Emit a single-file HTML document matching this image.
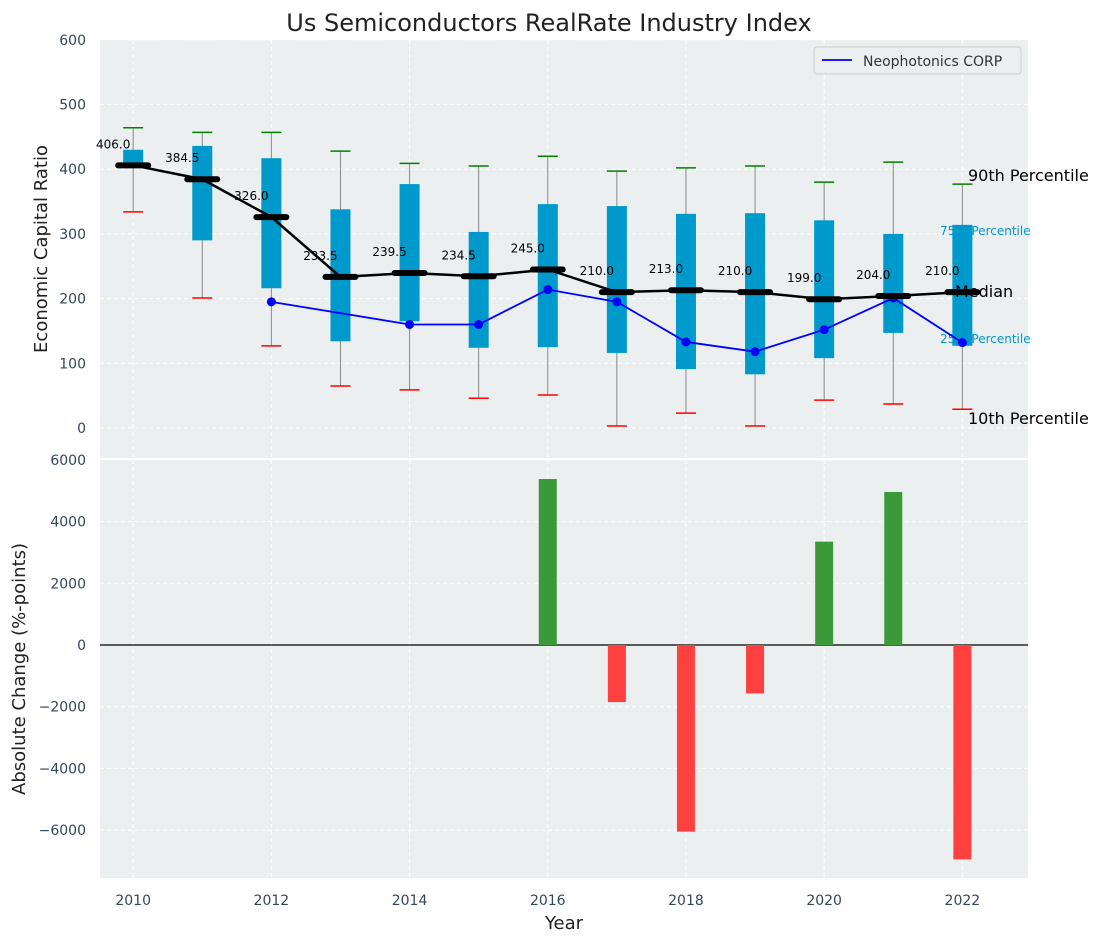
<!DOCTYPE html>
<html><head><meta charset="utf-8"><style>
body{margin:0;background:#fff;font-family:"Liberation Sans","DejaVu Sans",sans-serif}
svg text{font-family:"DejaVu Sans","Liberation Sans",sans-serif}
</style></head><body>
<svg id="c" width="1103" height="942"></svg>
<script>
const years=[2010,2011,2012,2013,2014,2015,2016,2017,2018,2019,2020,2021,2022];
const p90=[464,457,457,428,409,405,420,397,402,405,380,411,377];
const p75=[430,436,417,338,377,303,346,343,331,332,321,300,314];
const med=[406,384.5,326,233.5,239.5,234.5,245,210,213,210,199,204,210];
const p25=[406,290,216,134,165,124,125,116,91,83,108,147,127];
const p10=[334,201,127,65,59,46,51,3,23,3,43,37,29];
const neo=[null,null,195,null,160,160,214,195,133,118,152,201,132];
const changes=[0,0,0,0,0,0,5380,-1850,-6050,-1570,3350,4960,-6950];
const topTicks=[0,100,200,300,400,500,600];
const botTicks=[-6000,-4000,-2000,0,2000,4000,6000];
const xTicks=[2010,2012,2014,2016,2018,2020,2022];

const NS="http://www.w3.org/2000/svg",svg=document.getElementById('c');
function el(t,a,p){const e=document.createElementNS(NS,t);for(const k in a)e.setAttribute(k,a[k]);(p||svg).appendChild(e);return e;}
function tx(s,a,p){const e=el('text',a,p);e.textContent=s;return e;}
const L=100,R=1028;
const x=v=>L+(v-2009.52)*(R-L)/(2022.95-2009.52);
const yT=v=>428-v*0.647;
const yB=v=>645-v*0.03085;

let e;
e=el('rect',{x:L,y:40,width:R-L,height:418,fill:'#ebeff0'});

e=el('rect',{x:L,y:460,width:R-L,height:418,fill:'#ebeff0'});


const g=el('g',{});
xTicks.forEach(t=>{
  el('line',{x1:x(t),x2:x(t),y1:40,y2:458,stroke:'#fff','stroke-dasharray':'4,3'},g);
  el('line',{x1:x(t),x2:x(t),y1:460,y2:878,stroke:'#fff','stroke-dasharray':'4,3'},g);
  e=tx(t,{x:x(t),y:905,'text-anchor':'middle','font-size':14,fill:'#33475b'});
  
});
topTicks.forEach(t=>{
  el('line',{x1:L,x2:R,y1:yT(t),y2:yT(t),stroke:'#fff','stroke-dasharray':'4,3'},g);
  e=tx(t,{x:86,y:yT(t)+5,'text-anchor':'end','font-size':14,fill:'#33475b'});
  
});
botTicks.forEach(t=>{
  el('line',{x1:L,x2:R,y1:yB(t),y2:yB(t),stroke:'#fff','stroke-dasharray':'4,3'},g);
  e=tx(t<0?'\u2212'+(-t):t,{x:86,y:yB(t)+5,'text-anchor':'end','font-size':14,fill:'#33475b'});
  
});

e=tx('90th Percentile',{x:968,y:181,'font-size':16,fill:'#000'});
e=tx('75th Percentile',{x:940,y:235,'font-size':12,fill:'#0099cc'});
e=tx('25th Percentile',{x:940,y:343,'font-size':12,fill:'#0099cc'});
e=tx('10th Percentile',{x:968,y:424,'font-size':16,fill:'#000'});

years.forEach((yr,i)=>{
  const cx=x(yr);
  e=el('line',{x1:cx,x2:cx,y1:yT(p90[i]),y2:yT(p10[i]),stroke:'#888','stroke-width':1});
  
  e=el('rect',{x:cx-10,y:yT(p75[i]),width:20,height:yT(p25[i])-yT(p75[i]),fill:'#0099cc'});
  
  e=el('line',{x1:cx-10,x2:cx+10,y1:yT(p90[i]),y2:yT(p90[i]),stroke:'green','stroke-width':1.5});
  
  e=el('line',{x1:cx-10,x2:cx+10,y1:yT(p10[i]),y2:yT(p10[i]),stroke:'red','stroke-width':1.5});
  
});
let pts=[];years.forEach((yr,i)=>{if(neo[i]!=null)pts.push(x(yr)+','+yT(neo[i]));});
e=el('polyline',{points:pts.join(' '),fill:'none',stroke:'blue','stroke-width':1.8});

years.forEach((yr,i)=>{if(neo[i]!=null){e=el('circle',{cx:x(yr),cy:yT(neo[i]),r:4.5,fill:'blue'});
}});
e=el('polyline',{points:years.map((yr,i)=>x(yr)+','+yT(med[i])).join(' '),fill:'none',stroke:'#000','stroke-width':2.5});

years.forEach((yr,i)=>{
  e=el('line',{x1:x(yr)-15,x2:x(yr)+15,y1:yT(med[i]),y2:yT(med[i]),stroke:'#000','stroke-width':6,'stroke-linecap':'round'});
  
  e=tx(med[i].toFixed(1),{x:x(yr)-20,y:yT(med[i])-17,'text-anchor':'middle','font-size':12,fill:'#000'});
  
});
e=tx('Median',{x:955,y:297,'font-size':16,fill:'#000'});

const lg=el('g',{});
el('rect',{x:814,y:47,width:207,height:27,fill:'#ebeff0',stroke:'#ccc',rx:3},lg);
el('line',{x1:822,x2:852,y1:60,y2:60,stroke:'blue','stroke-width':1.8},lg);
tx('Neophotonics CORP',{x:863,y:66,'font-size':14,fill:'#333'},lg);

e=el('line',{x1:L,x2:R,y1:yB(0),y2:yB(0),stroke:'#000','stroke-width':1.2});

years.forEach((yr,i)=>{
  const v=changes[i];if(!v)return;
  const y0=yB(Math.max(v,0)),h=Math.abs(yB(v)-yB(0));
  e=el('rect',{x:x(yr)-9,y:y0,width:18,height:h,fill:v>0?'#3a9a3a':'#ff4040'});
  
});

e=tx('Us Semiconductors RealRate Industry Index',{x:549,y:31,'text-anchor':'middle','font-size':24,fill:'#222'});

e=tx('Economic Capital Ratio',{x:0,y:0,'text-anchor':'middle','font-size':18,fill:'#222',transform:'translate(47,249) rotate(-90)'});

e=tx('Absolute Change (%-points)',{x:0,y:0,'text-anchor':'middle','font-size':18,fill:'#222',transform:'translate(25,669) rotate(-90)'});

e=tx('Year',{x:564,y:929,'text-anchor':'middle','font-size':18,fill:'#222'});

</script>
</body></html>
